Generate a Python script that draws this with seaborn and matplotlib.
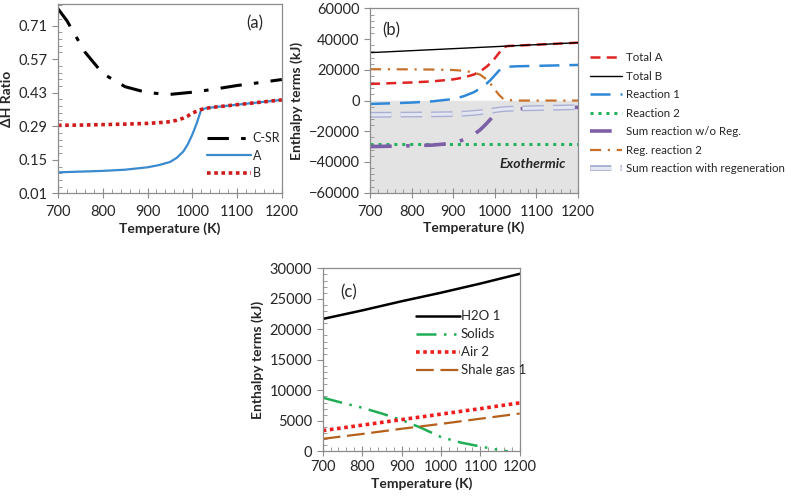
import numpy as np
import pandas as pd
import seaborn as sns
import matplotlib.pyplot as plt
import matplotlib.patheffects as pe
from matplotlib.ticker import MultipleLocator, AutoMinorLocator

# ---- data ----
# panel (a) and (b) temperatures
temps = [700, 750, 800, 850, 900, 925, 950, 965, 980, 990, 1000, 1010, 1020, 1030, 1050, 1100, 1150, 1200]

# (a) dH ratio
temps_csr = [700, 720, 760, 800, 850, 900, 950, 1000, 1050, 1100, 1150, 1200]
ratio_csr = [0.78, 0.73, 0.60, 0.51, 0.455, 0.43, 0.423, 0.432, 0.445, 0.46, 0.472, 0.485]
ratio_a = [0.098, 0.101, 0.104, 0.109, 0.119, 0.128, 0.141, 0.158, 0.185, 0.215, 0.255, 0.303, 0.36,
           0.365, 0.37, 0.38, 0.39, 0.40]
ratio_b = [0.294, 0.295, 0.297, 0.299, 0.302, 0.305, 0.309, 0.315, 0.324, 0.333, 0.345, 0.353, 0.36,
           0.365, 0.37, 0.38, 0.39, 0.40]

# (b) enthalpy terms (kJ)
total_a = [10800, 11300, 11800, 12500, 13800, 15000, 17000, 19000, 22000, 24500, 27500, 31000, 34500,
           35490, 35750, 36400, 37050, 37700]
total_b = [31200, 31850, 32500, 33150, 33800, 34125, 34450, 34650, 34840, 34970, 35100, 35230, 35360,
           35490, 35750, 36400, 37050, 37700]
reaction_1 = [-2200, -1800, -1300, -500, 1000, 2800, 5500, 8000, 11000, 13500, 16500, 19500, 21500,
              22000, 22300, 22600, 22900, 23200]
reaction_2 = [-28000] * len(temps)
sum_wo_reg = [-30000, -29700, -29400, -29000, -27800, -25500, -22000, -19000, -15000, -12000, -8500,
              -6500, -5800, -5600, -5400, -5000, -4700, -4400]
reg_reaction_2 = [20400, 20400, 20300, 20200, 19900, 19400, 18300, 16800, 13800, 10800, 7200, 3700,
                  1200, 400, 0, 0, 0, 0]
sum_with_reg = [-9300, -9200, -9100, -9000, -8800, -8500, -8000, -7600, -7100, -6700, -6300, -5900,
                -5600, -5400, -5200, -4900, -4600, -4300]

# (c) enthalpy terms (kJ)
temps_c = [700, 800, 900, 1000, 1100, 1200]
h2o_1 = [21700, 23100, 24600, 26000, 27500, 29100]
air_2 = [3400, 4300, 5200, 6100, 7000, 7950]
shale_gas_1 = [2050, 2850, 3700, 4500, 5350, 6200]
temps_solids = [700, 750, 800, 850, 900, 950, 1000, 1050, 1100, 1150, 1170]
solids = [8800, 7950, 7150, 6200, 5150, 3850, 2350, 1450, 800, 200, 0]

# ---- style ----
sns.set_style("ticks")
plt.rcParams['font.family'] = ['Lato', 'DejaVu Sans']
plt.rcParams['font.size'] = 10

fig = plt.figure(figsize=(7.91, 4.96), dpi=100)
ax_a = fig.add_axes([0.0733, 0.610, 0.283, 0.382])
ax_b = fig.add_axes([0.4678, 0.6115, 0.263, 0.3715])
ax_c = fig.add_axes([0.408, 0.090, 0.249, 0.369])

spine_col = "#8c8c8c"


def style_axes(ax, pad=5):
    for s in ax.spines.values():
        s.set_color(spine_col)
        s.set_linewidth(0.9)
    ax.set_xlim(700, 1200)
    ax.xaxis.set_major_locator(MultipleLocator(100))
    ax.xaxis.set_minor_locator(MultipleLocator(20))
    ax.yaxis.set_minor_locator(AutoMinorLocator(5))
    ax.tick_params(axis="x", which="major", direction="inout", length=7, color=spine_col,
                   labelsize=10.5, pad=pad)
    ax.tick_params(axis="x", which="minor", direction="in", length=3, color=spine_col)
    ax.tick_params(axis="y", which="major", direction="out", length=4, color=spine_col, labelsize=10.5)
    ax.tick_params(axis="y", which="minor", direction="in", length=3, color=spine_col)
    ax.tick_params(top=False, right=False, which="both")
    ax.set_xlabel("Temperature (K)", fontweight="bold", fontsize=10, labelpad=2)


# ---- (a) ----
sns.lineplot(x=temps_csr, y=ratio_csr, ax=ax_a, color="black", lw=2.2,
             linestyle=(0, (7, 4, 1.5, 4)), label="C-SR")
sns.lineplot(x=temps, y=ratio_a, ax=ax_a, color="#3a8ad0", lw=1.6, label="A")
sns.lineplot(x=temps, y=ratio_b, ax=ax_a, color="#d01a1a", lw=2.6,
             linestyle=(0, (1, 1)), label="B")
style_axes(ax_a)
ax_a.set_ylim(0.01, 0.80)
ax_a.set_yticks([0.01, 0.15, 0.29, 0.43, 0.57, 0.71])
ax_a.set_yticklabels(["0.01", "0.15", "0.29", "0.43", "0.57", "0.71"])
ax_a.set_ylabel("\u0394H Ratio", fontweight="bold", fontsize=10)
ax_a.text(0.88, 0.9, "(a)", transform=ax_a.transAxes, fontsize=12, ha="center", va="center")
ax_a.legend(loc="center left", bbox_to_anchor=(0.64, 0.20), frameon=False, fontsize=9,
            handlelength=3.5, handletextpad=0.1, labelspacing=0.45, borderpad=0)

# ---- (b) ----
ax_b.axhspan(-60000, 0, color="#e3e3e3", zorder=0)
sns.lineplot(x=temps, y=total_a, ax=ax_b, color="#e02424", lw=1.8,
             linestyle=(0, (4, 2.5)), label="Total A")
sns.lineplot(x=temps, y=total_b, ax=ax_b, color="black", lw=1.0, label="Total B")
sns.lineplot(x=temps, y=reaction_1, ax=ax_b, color="#2f88d8", lw=1.8,
             linestyle=(0, (8, 4)), label="Reaction 1")
sns.lineplot(x=temps, y=reaction_2, ax=ax_b, color="#22b35e", lw=2.2,
             linestyle=(0, (1, 1.6)), label="Reaction 2")
sns.lineplot(x=temps, y=sum_wo_reg, ax=ax_b, color="#7d5fa8", lw=2.6,
             linestyle=(0, (6, 4, 1, 4)), label="Sum reaction w/o Reg.")
sns.lineplot(x=temps, y=reg_reaction_2, ax=ax_b, color="#c8702a", lw=1.6,
             linestyle=(0, (5, 3, 1, 3)), label="Reg. reaction 2")
sns.lineplot(x=temps, y=sum_with_reg, ax=ax_b, color="#e4e6f2", lw=2.2,
             linestyle=(0, (7, 3)), label="Sum reaction with regeneration",
             path_effects=[pe.Stroke(linewidth=4.2, foreground="#aab0d4"), pe.Normal()])
style_axes(ax_b)
ax_b.set_ylim(-60000, 60000)
ax_b.yaxis.set_major_locator(MultipleLocator(20000))
ax_b.set_ylabel("Enthalpy terms (kJ)", fontweight="bold", fontsize=10)
ax_b.text(0.1, 0.88, "(b)", transform=ax_b.transAxes, fontsize=12, ha="center", va="center")
ax_b.text(1090, -41500, "Exothermic", fontsize=10, fontweight="bold", fontstyle="italic",
          ha="center", va="center")
ax_b.legend(loc="center left", bbox_to_anchor=(1.03, 0.43), frameon=False, fontsize=8.3,
            handlelength=2.8, handletextpad=0.3, labelspacing=0.65, borderpad=0)

# ---- (c) ----
sns.lineplot(x=temps_c, y=h2o_1, ax=ax_c, color="black", lw=1.8, label="H2O 1")
sns.lineplot(x=temps_solids, y=solids, ax=ax_c, color="#1fae55", lw=1.8,
             linestyle=(0, (8, 3, 1, 3, 1, 3)), label="Solids")
sns.lineplot(x=temps_c, y=air_2, ax=ax_c, color="#ee1c1c", lw=2.6,
             linestyle=(0, (1, 1)), label="Air 2")
sns.lineplot(x=temps_c, y=shale_gas_1, ax=ax_c, color="#b5601c", lw=1.6,
             linestyle=(0, (8, 3)), label="Shale gas 1")
style_axes(ax_c, pad=3)
ax_c.set_ylim(0, 30000)
ax_c.yaxis.set_major_locator(MultipleLocator(5000))
ax_c.set_ylabel("Enthalpy terms (kJ)", fontweight="bold", fontsize=10)
ax_c.text(0.13, 0.87, "(c)", transform=ax_c.transAxes, fontsize=12, ha="center", va="center")
ax_c.legend(loc="center left", bbox_to_anchor=(0.44, 0.59), frameon=False, fontsize=9.5,
            handlelength=3.3, handletextpad=0.1, labelspacing=0.45, borderpad=0)

fig.savefig("out.png", dpi=100)
